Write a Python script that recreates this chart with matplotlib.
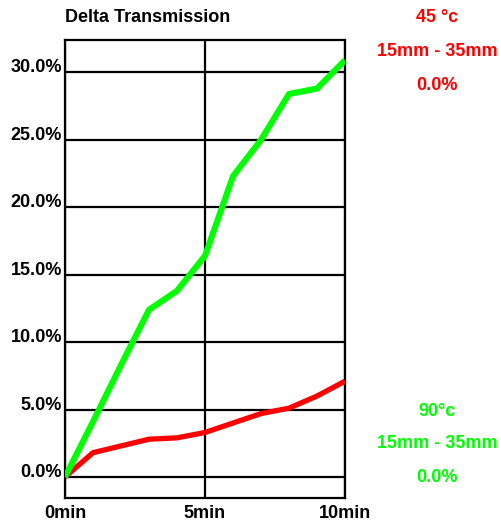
import matplotlib.pyplot as plt

minutes = [0, 1, 2, 3, 4, 5, 6, 7, 8, 9, 10]
hot_90 = [0.0, 4.1, 8.3, 12.4, 13.8, 16.4, 22.3, 25.0, 28.4, 28.8, 30.9]
warm_45 = [0.0, 1.8, 2.3, 2.8, 2.9, 3.3, 4.0, 4.7, 5.1, 6.0, 7.1]

y_ticks = [0, 5, 10, 15, 20, 25, 30]
y_labels = ["0.0%", "5.0%", "10.0%", "15.0%", "20.0%", "25.0%", "30.0%"]
x_ticks = [0, 5, 10]
x_labels = ["0min", "5min", "10min"]

red = "#ff0000"
green = "#00ff00"
fs = 13

fig = plt.figure(figsize=(5.02, 5.24), dpi=100)
ax = fig.add_axes([65/502, 26/524, 280/502, 458/524])

ax.plot(minutes, warm_45, color=red, lw=3.8, solid_capstyle="butt", zorder=3)
ax.plot(minutes, hot_90, color=green, lw=4.4, solid_capstyle="butt", zorder=4)

ax.set_xlim(0, 10)
ax.set_ylim(-1.56, 32.4)
ax.set_yticks(y_ticks)
ax.set_yticklabels(y_labels, fontsize=fs, fontweight="bold", family="Liberation Sans")
ax.set_xticks(x_ticks)
ax.set_xticklabels(x_labels, fontsize=fs, fontweight="bold", family="Liberation Sans")
for lab in ax.get_yticklabels():
    lab.set_va("baseline")
ax.tick_params(length=0, pad=2)
ax.tick_params(axis="x", pad=5)

ax.grid(True, color="black", lw=1.6)
ax.set_axisbelow(True)
for s in ax.spines.values():
    s.set_linewidth(1.6)

fig.text(65/502, 1 - 18/524, "Delta Transmission", fontsize=fs, fontweight="bold",
         family="Liberation Sans", ha="left", va="center")

info_font = dict(fontsize=fs, fontweight="bold", family="Liberation Sans", ha="center", va="center")
for txt, y in [("45 °c", 18), ("15mm - 35mm", 52), ("0.0%", 85)]:
    fig.text(437/502, 1 - y/524, txt, color=red, **info_font)
for txt, y in [("90°c", 411), ("15mm - 35mm", 444), ("0.0%", 478)]:
    fig.text(437/502, 1 - y/524, txt, color=green, **info_font)

fig.savefig("out.png", dpi=100)
